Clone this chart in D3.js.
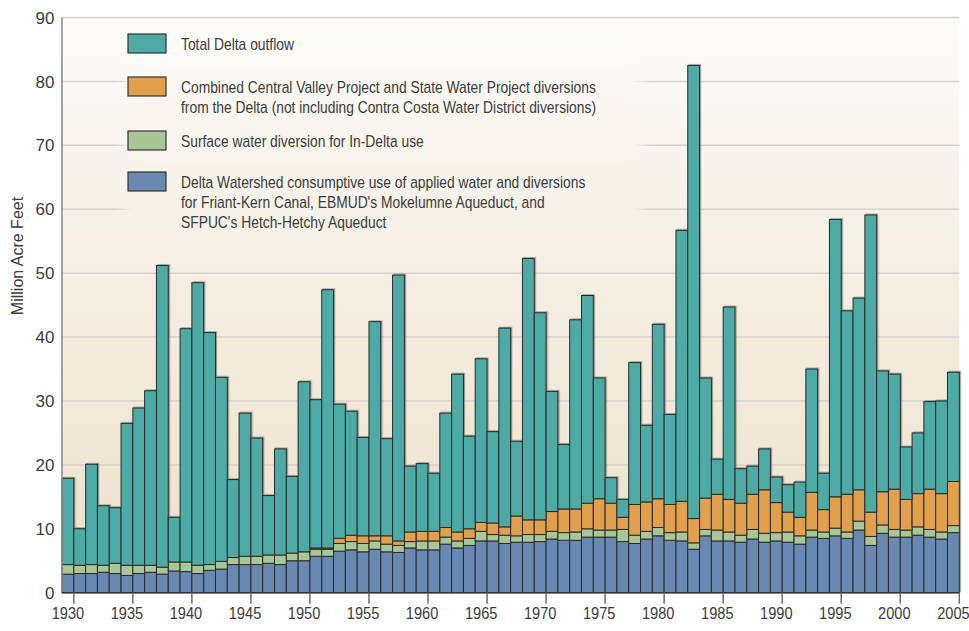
<!DOCTYPE html>
<html>
<head>
<meta charset="utf-8">
<style>
body { margin: 0; background: #fff; }
svg text { font-family: 'Liberation Sans', Arial, sans-serif; fill: #3c3c3c; }
</style>
</head>
<body>
<svg id="chart" width="969" height="631"></svg>
<script src="https://d3js.org/d3.v7.min.js"></script>
<script>
// water years
var years = [
  1930,1931,1932,1933,1934,1935,1936,1937,1938,1939,
  1940,1941,1942,1943,1944,1945,1946,1947,1948,1949,
  1950,1951,1952,1953,1954,1955,1956,1957,1958,1959,
  1960,1961,1962,1963,1964,1965,1966,1967,1968,1969,
  1970,1971,1972,1973,1974,1975,1976,1977,1978,1979,
  1980,1981,1982,1983,1984,1985,1986,1987,1988,1989,
  1990,1991,1992,1993,1994,1995,1996,1997,1998,1999,
  2000,2001,2002,2003,2004,2005
];

// million acre feet, bottom of stack first
var watershedUse = [
  2.9,3.0,3.0,3.2,3.0,2.7,3.0,3.2,2.9,3.4,
  3.3,3.0,3.5,3.7,4.4,4.4,4.4,4.6,4.4,5.0,
  5.0,5.7,5.7,6.5,6.7,6.4,6.8,6.4,6.3,7.0,
  6.7,6.7,7.6,7.0,7.4,8.1,8.1,7.7,7.9,7.9,
  8.0,8.4,8.2,8.2,8.7,8.7,8.7,8.0,7.7,8.4,
  8.9,8.2,8.1,6.8,8.9,8.1,8.1,7.9,8.4,7.9,
  8.1,7.9,7.6,8.7,8.5,8.9,8.5,9.8,7.4,9.3,
  8.7,8.7,9.0,8.7,8.4,9.4
];
var inDeltaUse = [
  1.5,1.3,1.4,1.1,1.6,1.6,1.3,1.1,1.1,1.4,
  1.5,1.3,0.9,1.2,1.1,1.3,1.3,1.3,1.5,1.2,
  1.4,1.1,1.1,1.2,1.3,1.3,1.3,1.2,1.1,1.0,
  1.4,1.4,1.1,1.1,1.1,1.5,1.0,1.3,1.0,1.2,
  1.1,1.2,1.2,1.3,1.3,1.1,1.1,1.9,1.3,1.2,
  1.3,1.2,1.4,1.0,1.0,1.7,1.4,1.1,1.5,1.4,
  1.3,1.6,1.3,1.1,1.0,1.2,1.0,1.4,1.4,1.3,
  1.2,1.1,1.3,1.2,1.1,1.1
];
var projectExports = [
  0,0,0,0,0,0,0,0,0,0,
  0,0,0,0,0,0,0,0,0,0,
  0,0.2,0.2,0.8,1.0,1.2,0.8,1.3,0.7,1.5,
  1.5,1.5,1.5,1.4,1.5,1.4,1.8,1.3,3.1,2.3,
  2.3,3.1,3.7,3.6,4.0,4.9,4.2,1.9,4.8,4.6,
  4.5,4.4,4.8,3.8,4.9,5.6,5.1,5.0,5.5,6.8,
  4.7,3.1,2.9,5.9,3.5,4.9,5.9,4.9,3.8,5.2,
  6.3,4.8,5.2,6.3,6.0,6.9
];
var deltaOutflow = [
  13.5,5.7,15.7,9.3,8.7,22.2,24.6,27.3,47.2,7.0,
  36.5,44.2,36.3,28.8,12.2,22.4,18.5,9.3,16.6,12.0,
  26.6,23.2,40.4,21.0,19.4,15.4,33.5,15.2,41.6,10.3,
  10.6,9.1,17.9,24.7,14.5,25.6,14.3,31.1,11.7,40.9,
  32.4,18.8,10.1,29.6,32.5,18.9,4.0,2.8,22.2,12.0,
  27.3,14.1,42.4,70.9,18.8,5.5,30.1,5.4,4.4,6.4,
  4.0,4.3,5.5,19.3,5.7,43.4,28.7,30.0,46.5,18.9,
  18.0,8.2,9.5,13.7,14.5,17.1
];

var yTicks = [0,10,20,30,40,50,60,70,80,90];
var xTickYears = [1930,1935,1940,1945,1950,1955,1960,1965,1970,1975,1980,1985,1990,1995,2000,2005];

var legendItems = [
  {key: "outflow", lines: ["Total Delta outflow"]},
  {key: "exports", lines: ["Combined Central Valley Project and State Water Project diversions",
                           "from the Delta (not including Contra Costa Water District diversions)"]},
  {key: "inDelta", lines: ["Surface water diversion for In-Delta use"]},
  {key: "watershed", lines: ["Delta Watershed consumptive use of applied water and diversions",
                             "for Friant-Kern Canal, EBMUD's Mokelumne Aqueduct, and",
                             "SFPUC's Hetch-Hetchy Aqueduct"]}
];

var colors = {
  watershed: "#6989b3",
  inDelta: "#a9c697",
  exports: "#e0a04e",
  outflow: "#4eaaa5"
};
var keys = ["watershed", "inDelta", "exports", "outflow"];

var rows = years.map(function(y, i) {
  return {year: y, watershed: watershedUse[i], inDelta: inDeltaUse[i],
          exports: projectExports[i], outflow: deltaOutflow[i]};
});

var margin = {top: 17.5, right: 9.7, bottom: 38.3, left: 62},
    W = 969, H = 631,
    width = W - margin.left - margin.right,
    height = H - margin.top - margin.bottom;

var svg = d3.select("#chart");
var defs = svg.append("defs");

var bg = defs.append("linearGradient")
  .attr("id", "bg").attr("gradientUnits", "userSpaceOnUse")
  .attr("x1", 0).attr("y1", margin.top).attr("x2", 0).attr("y2", margin.top + height);
bg.append("stop").attr("offset", "0%").attr("stop-color", "#fcfbf8");
bg.append("stop").attr("offset", "50%").attr("stop-color", "#f3ecdf");
bg.append("stop").attr("offset", "100%").attr("stop-color", "#ebdfc8");

var soft = defs.append("filter").attr("id", "soft")
  .attr("x", "-10%").attr("y", "-20%").attr("width", "120%").attr("height", "140%");
soft.append("feGaussianBlur").attr("stdDeviation", 6);

var shadow = defs.append("filter").attr("id", "shadow")
  .attr("x", "-5%").attr("y", "-5%").attr("width", "110%").attr("height", "110%");
shadow.append("feDropShadow").attr("dx", 1.2).attr("dy", -0.8)
  .attr("stdDeviation", 0.6).attr("flood-color", "#555").attr("flood-opacity", 0.55);

var g = svg.append("g").attr("transform", "translate(" + margin.left + "," + margin.top + ")");

var x = d3.scaleBand().domain(years).range([0, width]).padding(0);
var y = d3.scaleLinear().domain([0, 90]).range([height, 0]);

// panel
g.append("rect").attr("width", width).attr("height", height).attr("fill", "url(#bg)");

// grid
g.selectAll(".grid").data(yTicks.filter(function(d) { return d > 0; }))
  .enter().append("line")
  .attr("x1", 0).attr("x2", width)
  .attr("y1", function(d) { return y(d); }).attr("y2", function(d) { return y(d); })
  .attr("stroke", "#d6d2cb").attr("stroke-width", 1.5);

// legend backdrop hides the grid behind the legend
g.append("rect")
  .attr("x", 62).attr("y", 12).attr("width", 518).attr("height", 208)
  .attr("fill", "url(#bg)").attr("filter", "url(#soft)");

// bars
var stack = d3.stack().keys(keys)(rows);
var bars = g.append("g").attr("filter", "url(#shadow)");
bars.selectAll("g.layer").data(stack).enter().append("g")
  .attr("fill", function(d) { return colors[d.key]; })
  .selectAll("rect").data(function(d) { return d; }).enter().append("rect")
    .attr("x", function(d) { return x(d.data.year); })
    .attr("y", function(d) { return y(d[1]); })
    .attr("width", x.bandwidth())
    .attr("height", function(d) { return Math.max(0, y(d[0]) - y(d[1])); })
    .attr("stroke", "#2b2b2b").attr("stroke-width", 1)
    .attr("display", function(d) { return d[1] - d[0] > 0 ? null : "none"; });

// axes
g.append("line").attr("x1", 0).attr("x2", 0).attr("y1", 0).attr("y2", height)
  .attr("stroke", "#8a8a8a").attr("stroke-width", 1.5);
g.append("line").attr("x1", 0).attr("x2", width).attr("y1", height).attr("y2", height)
  .attr("stroke", "#333").attr("stroke-width", 1.5);

g.selectAll(".ytl").data(yTicks).enter().append("text")
  .attr("x", -7.5).attr("y", function(d) { return y(d); }).attr("dy", "0.36em")
  .attr("text-anchor", "end").style("font-size", "17px")
  .text(function(d) { return d; });

var xt = g.selectAll(".xt").data(xTickYears).enter().append("g");
xt.append("line")
  .attr("x1", function(d) { return x(d) + x.bandwidth(); })
  .attr("x2", function(d) { return x(d) + x.bandwidth(); })
  .attr("y1", height).attr("y2", height + 11)
  .attr("stroke", "#6e6e6e").attr("stroke-width", 1.5);
xt.append("text")
  .attr("transform", function(d) {
    return "translate(" + (x(d) + x.bandwidth() / 2) + "," + (height + 26) + ") scale(0.86,1)";
  })
  .attr("text-anchor", "middle").style("font-size", "17px")
  .text(function(d) { return d; });

// y title
svg.append("text")
  .attr("transform", "translate(23,256) rotate(-90)")
  .attr("text-anchor", "middle").style("font-size", "16px")
  .text("Million Acre Feet");

// legend
var lg = svg.append("g").attr("transform", "translate(128,34)");
var lineH = 20;
var offs = [0, 43, 97, 138];
legendItems.forEach(function(item, i) {
  var row = lg.append("g").attr("transform", "translate(0," + offs[i] + ")");
  row.append("rect").attr("width", 38).attr("height", 19)
    .attr("fill", colors[item.key]).attr("stroke", "#333").attr("stroke-width", 1.2);
  item.lines.forEach(function(t, j) {
    row.append("text")
      .attr("transform", "translate(53," + (15.5 + j * lineH) + ") scale(0.865,1)")
      .style("font-size", "16px")
      .text(t);
  });
});
</script>
</body>
</html>
